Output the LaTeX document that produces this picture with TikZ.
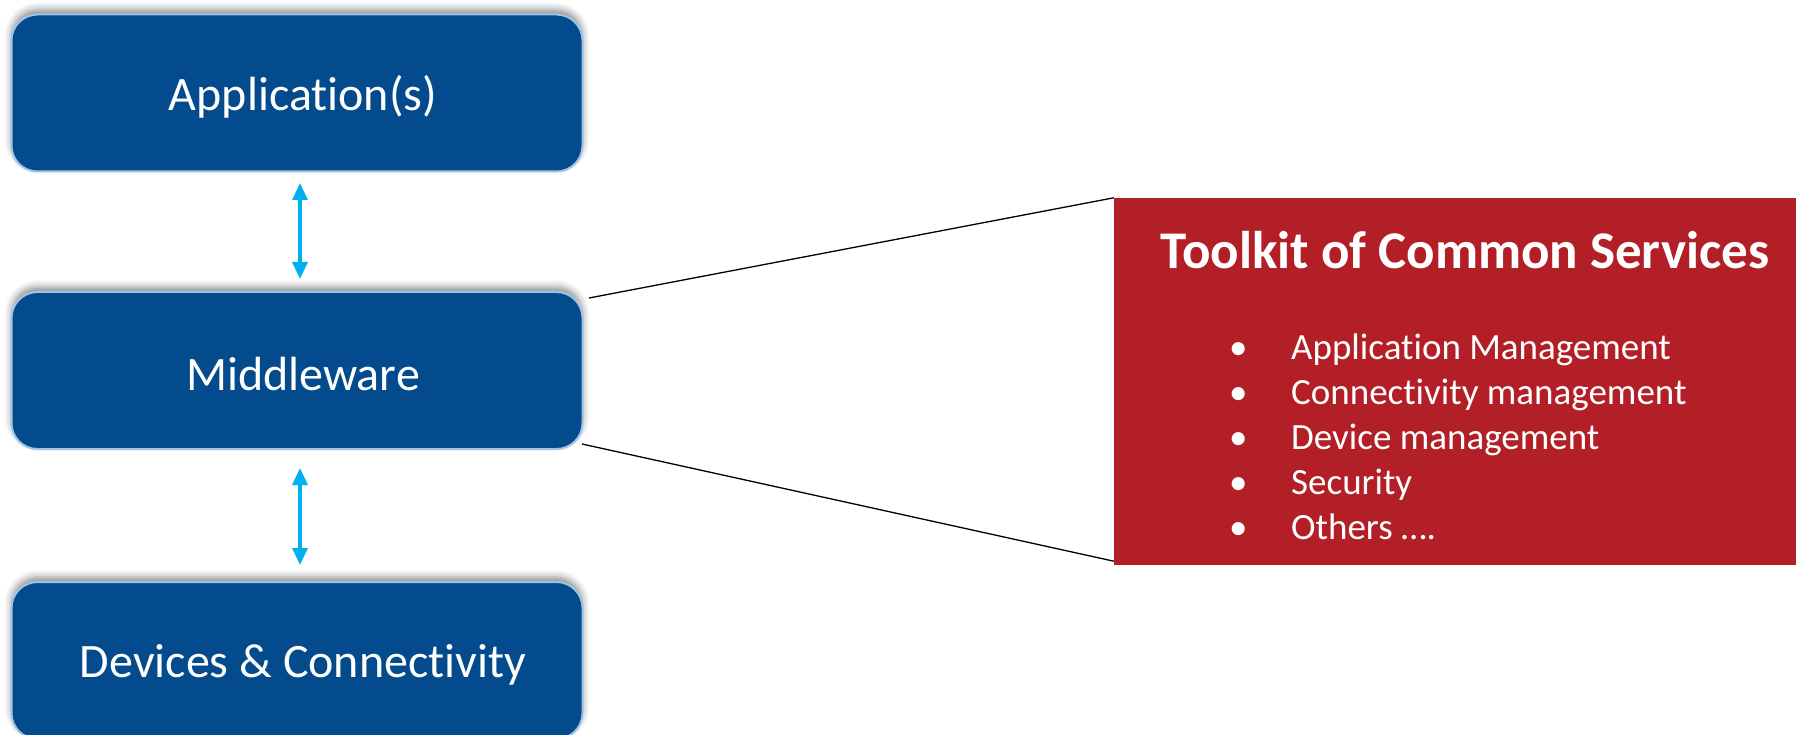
\documentclass[tikz,border=0pt]{standalone}
\usepackage{fontspec}
\setmainfont{Carlito}[RawFeature={-liga;-dlig}]
\usetikzlibrary{arrows.meta,shadows.blur}
\definecolor{boxblue}{HTML}{034B8C}
\definecolor{boxedge}{HTML}{9DC3E6}
\definecolor{arrowblue}{HTML}{00B0F0}
\definecolor{toolred}{HTML}{B31F27}
\tikzset{
  layer/.style={draw=boxedge, line width=2pt, fill=boxblue, rounded corners=26pt,
    minimum width=571pt, minimum height=157pt, inner sep=0pt,
    blur shadow={shadow xshift=0pt, shadow yshift=5pt, shadow blur radius=7pt, shadow opacity=45}},
  layertext/.style={text=white, font=\fontsize{48}{56}\selectfont, inner sep=0pt, xshift=6pt, yshift=-4pt},
  link/.style={arrowblue, line width=3.2pt, {Triangle[length=17pt,width=15pt]}-{Triangle[length=17pt,width=15pt]}},
  zoomline/.style={black, line width=1.3pt},
  toolbox/.style={fill=toolred, draw=none, minimum width=682pt, minimum height=367pt, inner sep=0pt}
}
\begin{document}
\begin{tikzpicture}[x=1pt,y=-1pt]
\useasboundingbox (0,0) rectangle (1796,735);
\node[layer, label={[layertext]center:Application(s)}] (app) at (297,93) {};
\node[layer, label={[layertext]center:Middleware}] (mw) at (297,370.5) {};
\node[layer, label={[layertext]center:Devices \& Connectivity}] (dev) at (297,660.5) {};
\node[toolbox] (tk) at (1455,381.5) {};
\node[text=white, font=\bfseries\fontsize{53}{60}\selectfont, inner sep=0pt] (title) at (1465,250) {Toolkit of Common Services};
\node[text=white, font=\fontsize{37}{45}\selectfont, inner sep=0pt, anchor=west, align=left] (list) at (1229,437)
 {\makebox[62pt][l]{•}Application Management\\
  \makebox[62pt][l]{•}Connectivity management\\
  \makebox[62pt][l]{•}Device management\\
  \makebox[62pt][l]{•}Security\\
  \makebox[62pt][l]{•}Others ….};
\coordinate (a1t) at (300,183);
\coordinate (a1b) at (300,279);
\coordinate (a2t) at (300,468);
\coordinate (a2b) at (300,565);
\draw[link] (a1t) -- (a1b);
\draw[link] (a2t) -- (a2b);
\coordinate (u1) at (589,298);
\coordinate (l1) at (582,444);
\draw[zoomline] (u1) -- (tk.north west);
\draw[zoomline] (l1) -- ([yshift=4pt]tk.south west);
\end{tikzpicture}
\end{document}
